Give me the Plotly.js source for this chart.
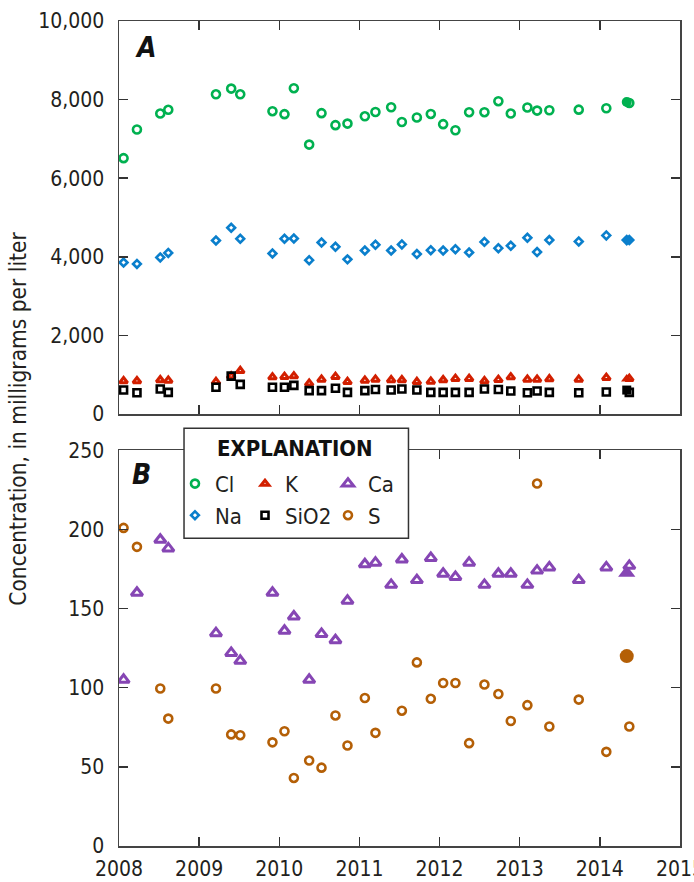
<!DOCTYPE html>
<html>
<head>
<meta charset="utf-8">
<script src="https://cdn.plot.ly/plotly-3.0.1.min.js"></script>
<style>html,body{margin:0;padding:0;background:#fff;}#chart{width:694px;height:882px;}</style>
</head>
<body>
<div id="chart"></div>
<script>
// Sampling dates (decimal years)
const dates = [2008.057, 2008.224, 2008.515, 2008.615, 2009.21, 2009.40, 2009.513, 2009.915,
  2010.065, 2010.182, 2010.373, 2010.527, 2010.701, 2010.851, 2011.068, 2011.20, 2011.396,
  2011.53, 2011.717, 2011.891, 2012.045, 2012.198, 2012.369, 2012.56, 2012.734, 2012.889,
  2013.096, 2013.217, 2013.37, 2013.737, 2014.081, 2014.368];
// Panel A (mg/L)
const cl = [6510, 7240, 7645, 7740, 8135, 8280, 8135, 7705, 7630, 8290, 6855, 7655, 7350, 7390,
  7575, 7685, 7805, 7430, 7545, 7635, 7375, 7220, 7680, 7680, 7960, 7645, 7800, 7720, 7730,
  7745, 7780, 7915];
const na = [3855, 3820, 3985, 4100, 4415, 4740, 4460, 4085, 4460, 4465, 3915, 4365, 4255, 3935,
  4160, 4305, 4160, 4315, 4070, 4170, 4160, 4195, 4110, 4380, 4220, 4280, 4485, 4120, 4425,
  4390, 4545, 4425];
const k = [840, 840, 865, 855, 820, 965, 1100, 940, 950, 965, 780, 880, 950, 820, 855, 880, 865,
  865, 820, 830, 865, 900, 900, 840, 875, 940, 880, 880, 890, 880, 925, 900];
const sio2 = [610, 540, 635, 550, 680, 965, 755, 680, 680, 730, 595, 595, 655, 550, 595, 625, 610,
  635, 610, 550, 550, 550, 550, 635, 625, 585, 540, 585, 550, 540, 560, 550];
// Panel B (mg/L)
const ca = [105, 160, 193.5, 188, 134.5, 122, 117, 160, 136, 145, 105, 134, 130, 155, 178, 179,
  165, 181, 168, 182, 172, 170, 179, 165, 172, 172, 165, 174, 176, 168, 176, 177];
const s = [201, 189, 99.5, 80.5, 99.5, 70.5, 70, 65.5, 72.5, 43, 54, 49.5, 82.5, 63.5, 93.5, 71.5,
  null, 85.5, 116, 93, 103, 103, 65, 102, 96, 79, 89, 229, 75.5, 92.5, 59.5, 75.5];
// Additional sample (filled symbols)
const extraDate = [2014.336];
const clExtra = [7940];
const naExtra = [4425];
const kExtra = [890];
const sio2Extra = [610];
const caExtra = [172.5];
const sExtra = [120];
const colors = {Cl: '#00b150', Na: '#0a7fcc', K: '#d21f00', SiO2: '#000000', Ca: '#8646b4', S: '#b45f06'};

const FONT = '"DejaVu Sans Condensed", "Liberation Sans Narrow", sans-serif';

function openTrace(name, y, symbol, size, lw, xa, ya, legend) {
  return {type: 'scatter', mode: 'markers', x: dates, y: y, name: name, xaxis: xa, yaxis: ya,
    legend: legend,
    marker: {symbol: symbol, size: size, color: colors[name], line: {color: colors[name], width: lw}}};
}
function filledTrace(name, y, symbol, size, xa, ya) {
  return {type: 'scatter', mode: 'markers', x: extraDate, y: y, name: name, xaxis: xa, yaxis: ya,
    showlegend: false, marker: {symbol: symbol, size: size, color: colors[name], line: {width: 0}}};
}

const traces = [
  openTrace('Cl', cl, 'circle-open', 8, 2.6, 'x2', 'y2', 'legend'),
  openTrace('Na', na, 'diamond-open', 6, 2.6, 'x2', 'y2', 'legend'),
  openTrace('K', k, 'triangle-up-open', 7, 3, 'x2', 'y2', 'legend2'),
  openTrace('SiO2', sio2, 'square-open', 7, 2.6, 'x2', 'y2', 'legend2'),
  openTrace('Ca', ca, 'triangle-up-open', 10, 3, 'x', 'y', 'legend3'),
  openTrace('S', s, 'circle-open', 8, 2.6, 'x', 'y', 'legend3'),
  filledTrace('Cl', clExtra, 'circle', 10, 'x2', 'y2'),
  filledTrace('Na', naExtra, 'diamond', 9, 'x2', 'y2'),
  filledTrace('K', kExtra, 'triangle-up', 10, 'x2', 'y2'),
  filledTrace('SiO2', sio2Extra, 'square', 9, 'x2', 'y2'),
  filledTrace('Ca', caExtra, 'triangle-up', 15, 'x', 'y'),
  filledTrace('S', sExtra, 'circle', 14, 'x', 'y')
];

const axisCommon = {
  showline: true, linecolor: '#444', linewidth: 1.5, mirror: 'ticks',
  ticks: 'inside', ticklen: 9, tickwidth: 1.5, tickcolor: '#333',
  showgrid: false, zeroline: false, ticklabeloverflow: 'allow',
  tickfont: {family: FONT, size: 21, color: '#231f20'}
};
const tickYears = [2008, 2009, 2010, 2011, 2012, 2013, 2014, 2015];
const legendFont = {family: FONT, size: 22, color: '#231f20'};

const layout = {
  width: 694, height: 882,
  margin: {l: 119, r: 14, t: 21, b: 36},
  paper_bgcolor: '#fff', plot_bgcolor: '#fff',
  font: {family: FONT, color: '#231f20'},
  xaxis: Object.assign({}, axisCommon, {range: [2008, 2015.0005], tickvals: tickYears,
    ticktext: tickYears.map(String), anchor: 'y', ticklabelstandoff: 3}),
  yaxis: Object.assign({}, axisCommon, {range: [0, 250], dtick: 50, domain: [0, 0.4796],
    anchor: 'x', ticklabelstandoff: 9}),
  xaxis2: Object.assign({}, axisCommon, {range: [2008, 2015.0005], tickvals: tickYears,
    showticklabels: false, anchor: 'y2'}),
  yaxis2: Object.assign({}, axisCommon, {range: [0, 10000], dtick: 2000, tickformat: ',d',
    domain: [0.5236, 1], anchor: 'x2', ticklabelstandoff: 9}),
  showlegend: true,
  legend: {x: 0.0998, y: 0.4645, xanchor: 'left', yanchor: 'top', bgcolor: 'rgba(0,0,0,0)',
    font: legendFont, tracegroupgap: 0, itemsizing: 'trace'},
  legend2: {x: 0.2246, y: 0.4645, xanchor: 'left', yanchor: 'top', bgcolor: 'rgba(0,0,0,0)',
    font: legendFont, tracegroupgap: 0, itemsizing: 'trace'},
  legend3: {x: 0.3725, y: 0.4645, xanchor: 'left', yanchor: 'top', bgcolor: 'rgba(0,0,0,0)',
    font: legendFont, tracegroupgap: 0, itemsizing: 'trace'},
  shapes: [
    {type: 'rect', xref: 'paper', yref: 'paper', x0: 0.1159, x1: 0.516, y0: 0.373, y1: 0.5063,
      line: {color: '#333', width: 1.5}, fillcolor: '#fff', layer: 'above'}
  ],
  annotations: [
    {text: 'EXPLANATION', xref: 'paper', yref: 'paper', x: 0.3137, y: 0.4824, showarrow: false,
      xanchor: 'center', yanchor: 'middle', font: {family: FONT, size: 22, color: '#111', weight: 'bold'}},
    {text: '<b><i>A</i></b>', xref: 'paper', yref: 'paper', x: 0.048, y: 0.968, showarrow: false,
      xanchor: 'center', yanchor: 'middle', font: {family: FONT, size: 28, color: '#111'}},
    {text: '<b><i>B</i></b>', xref: 'paper', yref: 'paper', x: 0.040, y: 0.4497, showarrow: false,
      xanchor: 'center', yanchor: 'middle', font: {family: FONT, size: 28, color: '#111'}},
    {text: 'Concentration, in milligrams per liter', xref: 'paper', yref: 'paper', x: -0.18, y: 0.518,
      textangle: -90, showarrow: false, xanchor: 'center', yanchor: 'middle',
      font: {family: FONT, size: 22.5, color: '#231f20'}}
  ]
};

Plotly.newPlot('chart', traces, layout, {staticPlot: true, displayModeBar: false});
</script>
</body>
</html>
